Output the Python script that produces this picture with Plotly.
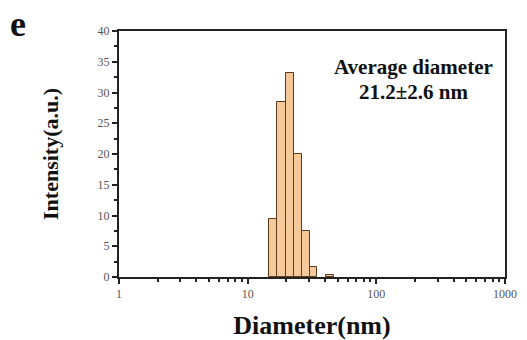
import plotly.graph_objects as go

# Bin edges (nm) and intensities
bin_left = [14.7, 17.0, 19.7, 22.8, 26.3, 30.4, 40.5]
bin_right = [17.0, 19.7, 22.8, 26.3, 30.4, 34.8, 47.0]
intensity = [9.4, 28.4, 33.2, 20.0, 7.4, 1.6, 0.25]

y_ticks = [0, 5, 10, 15, 20, 25, 30, 35, 40]
x_ticks = [1, 10, 100, 1000]
x_ticklabels = ["1", "10", "100", "1000"]
x_minor = [m * d for d in (1, 10, 100) for m in range(2, 10)]

widths = [r - l for l, r in zip(bin_left, bin_right)]

fig = go.Figure()
fig.add_trace(go.Bar(
    x=bin_left, y=intensity, width=widths, offset=0,
    marker=dict(color="#f6c99a", line=dict(color="#5b3b1c", width=1)),
    showlegend=False,
))

font_serif = "Liberation Serif, Times New Roman, serif"

fig.update_layout(
    width=527, height=340,
    margin=dict(l=119, r=22, t=31, b=63),
    paper_bgcolor="white", plot_bgcolor="white",
    font=dict(family=font_serif, color="#111"),
    bargap=0,
    xaxis=dict(
        type="log", range=[0, 3], automargin=False,
        tickvals=x_ticks, ticktext=x_ticklabels,
        ticks="outside", ticklen=5, tickwidth=2, tickcolor="#222",
        minor=dict(tickvals=x_minor, ticks="outside", ticklen=3, tickwidth=2, tickcolor="#222"),
        showline=True, linecolor="#222", linewidth=2, mirror=True,
        showgrid=False, zeroline=False,
        tickfont=dict(size=12, color="#555", family=font_serif),
        title=dict(text="<b>Diameter(nm)</b>", font=dict(size=26, color="#111", family=font_serif), standoff=23),
    ),
    yaxis=dict(
        range=[0, 40], tickvals=y_ticks, automargin=False,
        ticks="outside", ticklen=5, tickwidth=2, tickcolor="#222",
        minor=dict(ticks="outside", ticklen=3, tickwidth=2, tickcolor="#222", dtick=2.5),
        showline=True, linecolor="#222", linewidth=2, mirror=True,
        showgrid=False, zeroline=False,
        tickfont=dict(size=12, color="#555", family=font_serif),
        title=dict(text="<b>Intensity(a.u.)</b>", font=dict(size=22, color="#111", family=font_serif), standoff=33),
    ),
    annotations=[
        dict(text="<b>Average diameter</b>", xref="paper", yref="paper",
             x=0.764, y=0.855, xanchor="center", yanchor="middle", showarrow=False,
             font=dict(size=21, color="#111", family=font_serif)),
        dict(text="<b>21.2±2.6 nm</b>", xref="paper", yref="paper",
             x=0.764, y=0.752, xanchor="center", yanchor="middle", showarrow=False,
             font=dict(size=21, color="#111", family=font_serif)),
        dict(text="<b>e</b>", xref="paper", yref="paper", x=-0.262, y=1.118,
             xanchor="center", yanchor="top", showarrow=False,
             font=dict(size=36, color="#111", family=font_serif)),
    ],
)

fig.write_html("out.html", config={"displayModeBar": False},
               post_script="document.body.style.margin='0';")
